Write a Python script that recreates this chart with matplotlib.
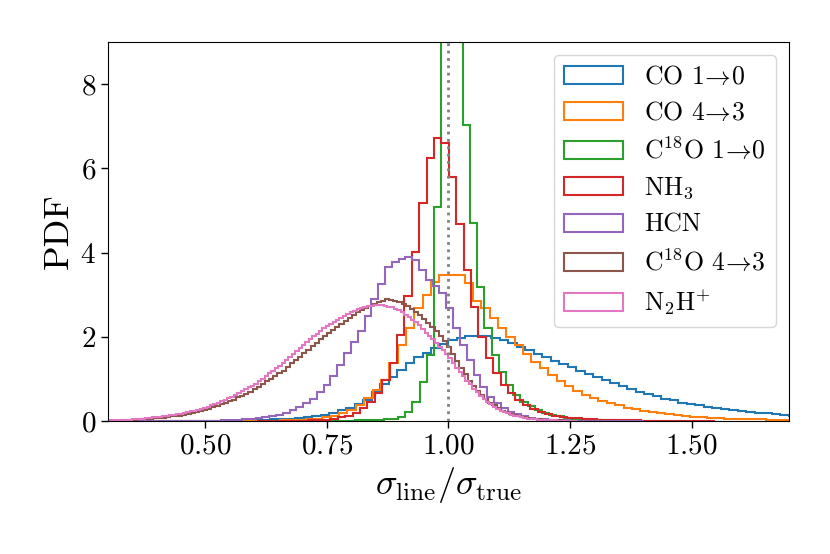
import numpy as np
import matplotlib
matplotlib.use("Agg")
import matplotlib.pyplot as plt

plt.rcParams["font.family"] = "serif"
plt.rcParams["font.serif"] = ["cmr10", "DejaVu Serif"]
plt.rcParams["mathtext.fontset"] = "cm"
plt.rcParams["axes.formatter.use_mathtext"] = True
plt.rcParams["axes.unicode_minus"] = False

labels = [r"CO $1\!\rightarrow\!0$", r"CO $4\!\rightarrow\!3$", r"$\mathrm{C^{18}O}$ $1\!\rightarrow\!0$",
          r"$\mathrm{NH_3}$", "HCN", r"$\mathrm{C^{18}O}$ $4\!\rightarrow\!3$", r"$\mathrm{N_2H^{+}}$"]

# bin start and width of each histogram
bin_start = [0.30, 0.2935, 0.689, 0.6055, 0.2815, 0.30, 0.30]
bin_width = [0.0175, 0.0172, 0.0148, 0.0152, 0.014, 0.0085, 0.007]

co10 = [0.0, 0.0, 0.0, 0.0, 0.0, 0.001, 0.001, 0.001, 0.001, 0.002,
        0.002, 0.002, 0.003, 0.005, 0.006, 0.01, 0.015, 0.022, 0.03, 0.04,
        0.05, 0.06, 0.075, 0.095, 0.12, 0.15, 0.2, 0.26, 0.32, 0.40,
        0.5, 0.68, 0.88, 1.05, 1.22, 1.38, 1.51, 1.62, 1.73, 1.84,
        1.92, 1.97, 2.02, 2.03, 2.01, 1.97, 1.92, 1.85, 1.77, 1.68,
        1.59, 1.51, 1.42, 1.35, 1.28, 1.20, 1.12, 1.05, 0.98, 0.91,
        0.84, 0.77, 0.70, 0.64, 0.59, 0.53, 0.49, 0.44, 0.40, 0.37,
        0.34, 0.31, 0.28, 0.26, 0.24, 0.22, 0.20, 0.18, 0.16, 0.14,
        0.13, 0.12]

co43 = [0.0, 0.0, 0.0, 0.0, 0.0, 0.0, 0.0, 0.0, 0.001, 0.001,
        0.001, 0.001, 0.001, 0.001, 0.002, 0.002, 0.002, 0.003, 0.005, 0.007,
        0.01, 0.015, 0.02, 0.03, 0.045, 0.06, 0.09, 0.13, 0.19, 0.26,
        0.38, 0.54, 0.73, 0.97, 1.37, 1.8, 2.2, 2.68, 2.99, 3.3,
        3.48, 3.48, 3.47, 3.27, 2.85, 2.68, 2.45, 2.2, 2.0, 1.8,
        1.6, 1.41, 1.25, 1.09, 0.95, 0.83, 0.72, 0.63, 0.55, 0.48,
        0.42, 0.37, 0.32, 0.28, 0.24, 0.21, 0.18, 0.16, 0.14, 0.12,
        0.105, 0.09, 0.08, 0.07, 0.06, 0.055, 0.05, 0.045, 0.04, 0.035,
        0.03, 0.028, 0.025, 0.022]

c18o10 = [0.002, 0.003, 0.004, 0.005, 0.006, 0.008, 0.01, 0.012, 0.015, 0.02,
          0.025, 0.03, 0.04, 0.06, 0.10, 0.22, 0.45, 0.93, 1.57, 5.09,
          11.5, 13.5, 11.0, 7.03, 4.7, 3.19, 2.2, 1.57, 1.17, 0.86,
          0.62, 0.46, 0.36, 0.27, 0.2, 0.15, 0.11, 0.08, 0.06, 0.045,
          0.035, 0.027, 0.02, 0.016, 0.012, 0.01, 0.008, 0.006, 0.005, 0.004]

nh3 = [0.001, 0.001, 0.002, 0.003, 0.004, 0.006, 0.009, 0.014, 0.022, 0.035,
       0.055, 0.085, 0.13, 0.2, 0.31, 0.46, 0.66, 0.97, 1.39, 2.04,
       2.97, 4.02, 5.19, 6.24, 6.73, 6.6, 5.8, 4.69, 3.59, 2.71,
       2.0, 1.49, 1.15, 0.86, 0.66, 0.5, 0.38, 0.29, 0.22, 0.17,
       0.13, 0.10, 0.08, 0.065, 0.052, 0.042, 0.034, 0.028, 0.023, 0.019,
       0.016, 0.013, 0.011, 0.009, 0.008, 0.007, 0.006, 0.005, 0.004, 0.004,
       0.003, 0.003]

hcn = [0.0, 0.0, 0.0, 0.001, 0.001, 0.001, 0.001, 0.001, 0.001, 0.002,
       0.002, 0.002, 0.002, 0.003, 0.004, 0.005, 0.007, 0.01, 0.014, 0.02,
       0.028, 0.038, 0.05, 0.07, 0.09, 0.12, 0.155, 0.2, 0.26, 0.33,
       0.42, 0.53, 0.69, 0.86, 1.08, 1.33, 1.61, 1.88, 2.15, 2.5,
       2.9, 3.25, 3.67, 3.78, 3.86, 3.9, 3.82, 3.59, 3.35, 3.2,
       3.05, 2.68, 2.2, 1.8, 1.45, 1.1, 0.8, 0.58, 0.42, 0.3,
       0.22, 0.16, 0.11, 0.08, 0.06, 0.04, 0.03, 0.02, 0.015, 0.01,
       0.007, 0.005, 0.004, 0.003, 0.002, 0.001, 0.001, 0.001, 0.0, 0.0]

c18o43 = [0.01, 0.01, 0.01, 0.02, 0.02, 0.02, 0.03, 0.04, 0.04, 0.05,
          0.06, 0.07, 0.07, 0.08, 0.09, 0.11, 0.12, 0.13, 0.15, 0.17,
          0.19, 0.21, 0.24, 0.26, 0.29, 0.33, 0.36, 0.40, 0.43, 0.47,
          0.51, 0.56, 0.60, 0.65, 0.70, 0.75, 0.81, 0.88, 0.94, 1.01,
          1.07, 1.14, 1.20, 1.29, 1.37, 1.45, 1.53, 1.61, 1.69, 1.78,
          1.86, 1.94, 2.02, 2.10, 2.17, 2.24, 2.31, 2.38, 2.45, 2.52,
          2.58, 2.63, 2.69, 2.74, 2.79, 2.83, 2.86, 2.89, 2.88, 2.86,
          2.83, 2.78, 2.73, 2.66, 2.60, 2.52, 2.43, 2.34, 2.24, 2.14,
          2.03, 1.90, 1.75, 1.59, 1.43, 1.26, 1.11, 0.96, 0.84, 0.72,
          0.62, 0.52, 0.44, 0.37, 0.31, 0.25, 0.21, 0.17, 0.14, 0.12,
          0.10, 0.08, 0.06, 0.05, 0.04, 0.03, 0.03, 0.02, 0.02, 0.02,
          0.01, 0.01, 0.01]

n2hp = [0.015, 0.02, 0.02, 0.025, 0.03, 0.03, 0.035, 0.04, 0.05, 0.055,
        0.06, 0.07, 0.075, 0.085, 0.09, 0.10, 0.11, 0.125, 0.135, 0.15,
        0.16, 0.17, 0.19, 0.21, 0.23, 0.25, 0.27, 0.29, 0.31, 0.34,
        0.37, 0.41, 0.44, 0.48, 0.51, 0.54, 0.58, 0.62, 0.67, 0.71,
        0.75, 0.80, 0.84, 0.89, 0.95, 1.01, 1.07, 1.13, 1.19, 1.25,
        1.31, 1.38, 1.45, 1.52, 1.59, 1.66, 1.74, 1.81, 1.87, 1.94,
        2.01, 2.07, 2.14, 2.20, 2.26, 2.31, 2.36, 2.40, 2.45, 2.49,
        2.54, 2.58, 2.62, 2.65, 2.68, 2.71, 2.73, 2.74, 2.75, 2.76,
        2.76, 2.74, 2.72, 2.70, 2.66, 2.63, 2.58, 2.52, 2.47, 2.41,
        2.35, 2.27, 2.19, 2.10, 2.02, 1.94, 1.85, 1.76, 1.68, 1.59,
        1.50, 1.39, 1.27, 1.17, 1.06, 0.96, 0.87, 0.77, 0.68, 0.60,
        0.53, 0.45, 0.40, 0.34, 0.29, 0.25, 0.21, 0.18, 0.15, 0.13,
        0.11, 0.09, 0.08, 0.06, 0.05, 0.04, 0.035, 0.03, 0.025, 0.02,
        0.018, 0.015, 0.012, 0.01, 0.008, 0.007, 0.006, 0.005]

series = [co10, co43, c18o10, nh3, hcn, c18o43, n2hp]

fig = plt.figure(figsize=(8.3, 5.54), dpi=100)
ax = fig.add_axes([0.130, 0.240, 0.8206, 0.684])

for vals, x0, w, lab in zip(series, bin_start, bin_width, labels):
    vals = np.array(vals)
    edges = x0 + w * np.arange(len(vals) + 1)
    ax.hist(edges[:-1], bins=edges, weights=vals, histtype="step", lw=1.5, label=lab)

ax.axvline(1.0, color="gray", ls=":", lw=2, zorder=5)

ax.set_xlim(0.3, 1.7)
ax.set_ylim(0, 9)
ax.set_xticks([0.5, 0.75, 1.0, 1.25, 1.5])
ax.set_yticks([0, 2, 4, 6, 8])
ax.tick_params(labelsize=21, length=5, width=1)
ax.set_xlabel(r"$\sigma_{\rm line}/\sigma_{\rm true}$", fontsize=26)
ax.set_ylabel("PDF", fontsize=26)
ax.legend(loc="upper right", fontsize=18.5, handlelength=2.3, labelspacing=0.45)

fig.savefig("out.png", dpi=100)
